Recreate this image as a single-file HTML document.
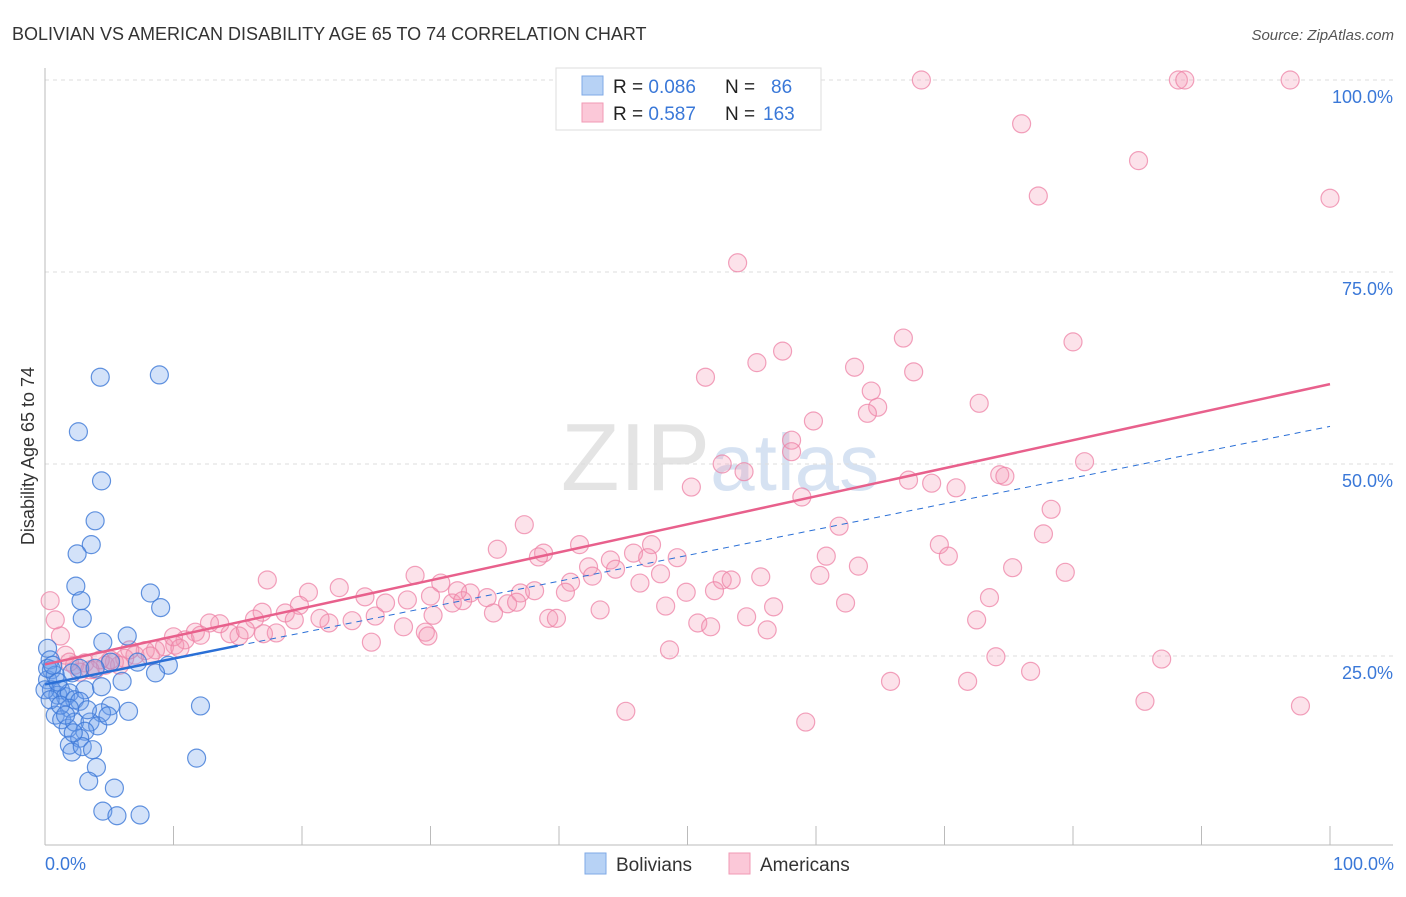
<!DOCTYPE html>
<html><head><meta charset="utf-8"><style>
body{margin:0;background:#fff;font-family:"Liberation Sans",sans-serif}
svg text{font-family:"Liberation Sans",sans-serif}
</style></head><body>
<svg id="chart" width="1406" height="892" viewBox="0 0 1406 892">
<text x="12" y="40" font-size="18" fill="#333">BOLIVIAN VS AMERICAN DISABILITY AGE 65 TO 74 CORRELATION CHART</text>
<text x="1394" y="40" font-size="15" fill="#555" font-style="italic" text-anchor="end">Source: ZipAtlas.com</text>
<text x="720" y="490" font-size="96" fill="#e4e4e4" text-anchor="middle" font-family="Liberation Serif">ZIP<tspan fill="#d6e2f2" font-family="Liberation Sans" font-size="80">atlas</tspan></text>
<g id="grid"></g><g id="axes"></g><g id="pts"></g><g id="trend"></g>
<text transform="translate(34,456) rotate(-90)" font-size="18" fill="#333" text-anchor="middle">Disability Age 65 to 74</text>
<text x="45" y="870" font-size="18" fill="#3a78d8">0.0%</text>
<text x="1394" y="870" font-size="18" fill="#3a78d8" text-anchor="end">100.0%</text>
<g>
<rect x="556" y="68" width="265" height="62" fill="#fff" stroke="#ddd"/>
<rect x="582" y="76" width="21" height="19" fill="#b7d2f5" stroke="#7fa9e6"/>
<rect x="582" y="103" width="21" height="19" fill="#fbc8d8" stroke="#f09ab5"/>
<text x="613" y="93" font-size="19" fill="#222">R = <tspan fill="#3a78d8">0.086</tspan><tspan x="725">N = </tspan><tspan x="771" fill="#3a78d8">86</tspan></text>
<text x="613" y="120" font-size="19" fill="#222">R = <tspan fill="#3a78d8"> 0.587</tspan><tspan x="725">N = </tspan><tspan x="763" fill="#3a78d8">163</tspan></text>
</g>
<g>
<rect x="585" y="853" width="21" height="21" fill="#b7d2f5" stroke="#7fa9e6"/>
<text x="616" y="871" font-size="19" fill="#333">Bolivians</text>
<rect x="729" y="853" width="21" height="21" fill="#fbc8d8" stroke="#f09ab5"/>
<text x="760" y="871" font-size="19" fill="#333">Americans</text>
</g>
</svg>
<script>
const yTicks=[25,50,75,100];
const yTickLabels=["25.0%","50.0%","75.0%","100.0%"];
const xTicks=[0,10,20,30,40,50,60,70,80,90,100];
const blueX=[4.3,8.9,2.6,4.4,3.9,3.6,2.5,2.4,2.8,2.9,8.2,9.0,4.5,6.4,0.2,0.4,0.5,0.2,0.8,1.2,0.5,1.0,1.6,1.9,2.3,3.1,4.4,5.1,6.0,7.2,9.6,8.6,2.1,2.7,3.9,5.1,6.5,4.4,2.7,1.9,0.8,1.3,1.8,2.3,3.5,4.1,3.1,1.9,2.7,2.1,2.9,3.7,4.0,3.4,5.4,4.5,5.6,7.4,12.1,11.8,0,0.4,1.2,1.6,2.2,3.3,4.9,1.0,0.2,0.6];
const blueY=[61.3,61.6,54.2,47.8,42.6,39.5,38.3,34.1,32.2,29.9,33.2,31.3,26.8,27.6,26.0,24.5,23.2,21.9,22.5,20.6,20.6,19.9,19.7,20.2,19.3,20.6,21.0,24.2,21.7,24.2,23.8,22.8,22.8,23.4,23.4,18.5,17.8,17.6,19.1,18.2,17.3,16.7,15.6,16.4,16.4,15.9,15.2,13.4,14.3,12.5,13.2,12.8,10.5,8.7,7.8,4.8,4.2,4.3,18.5,11.7,20.6,19.3,18.6,17.3,15.0,18.0,17.2,21.6,23.4,23.8];
const pinkX=[68.2,88.2,88.7,96.9,76.0,85.1,77.3,100,53.9,66.8,80.0,57.4,55.4,51.4,63.0,67.6,64.3,64.8,72.7,59.8,64.0,58.1,58.1,52.7,54.4,80.9,50.3,67.2,69.0,70.9,74.3,74.7,58.9,78.3,61.8,77.7,37.3,35.2,38.8,41.6,44.0,45.8,47.2,69.6,70.3,60.8,63.3,49.2,38.4,40.9,42.3,44.4,46.9,47.9,52.7,53.4,55.7,52.1,60.3,75.3,79.4,28.8,30.8,22.9,24.9,20.5,19.8,23.9,25.7,22.1,28.2,26.5,30.0,31.7,33.1,34.4,36.0,37.0,38.1,40.5,42.6,46.3,32.1,17.3,16.9,16.3,18.7,19.4,21.4,27.9,29.6,30.2,32.5,34.9,36.7,39.2,39.8,43.2,48.3,49.9,56.7,62.3,73.5,72.5,50.8,51.8,54.6,56.2,48.6,25.4,29.8,18.0,15.1,14.4,13.6,12.8,11.7,10.9,10.1,9.3,8.6,7.8,7.0,6.2,5.4,4.7,3.9,3.1,2.3,1.6,1.2,0.8,0.4,15.6,17.0,12.1,10.0,10.5,8.2,6.6,5.8,5.1,4.3,3.5,2.7,1.9,45.2,65.8,71.8,74.0,76.7,86.9,85.6,97.7,59.2];
const pinkY=[100,100,100,100,94.3,89.5,84.9,84.6,76.2,66.4,65.9,64.7,63.2,61.3,62.6,62.0,59.5,57.4,57.9,55.6,56.6,53.1,51.6,50.0,49.0,50.3,47.0,47.9,47.5,46.9,48.6,48.4,45.7,44.1,41.9,40.9,42.1,38.9,38.4,39.5,37.5,38.4,39.5,39.5,38.0,38.0,36.7,37.8,37.9,34.6,36.6,36.3,37.8,35.7,34.9,34.9,35.3,33.5,35.5,36.5,35.9,35.5,34.5,33.9,32.7,33.3,31.6,29.6,30.2,29.3,32.3,31.9,32.8,31.9,33.2,32.6,31.8,33.2,33.5,33.3,35.4,34.5,33.5,34.9,30.7,29.8,30.6,29.7,29.9,28.8,28.1,30.3,32.2,30.6,32.0,29.9,29.9,31.0,31.5,33.3,31.4,31.9,32.6,29.7,29.3,28.8,30.1,28.4,25.8,26.8,27.6,28.0,27.6,27.9,29.2,29.3,28.1,27.1,26.4,26.2,25.8,25.7,25.1,24.7,24.2,23.8,23.2,24.1,23.8,25.1,27.6,29.7,32.2,28.4,27.9,27.7,27.5,26.0,25.0,25.8,23.8,24.5,24.5,23.2,22.9,24.2,17.8,21.7,21.7,24.9,23.0,24.6,19.1,18.5,16.4];
const blueTrend=[21.3,54.9];
const pinkTrend=[23.9,60.4];
const NS="http://www.w3.org/2000/svg";
const X0=45,X1=1330,Y0=848,Y100=80;
function sx(v){return X0+v*(X1-X0)/100;}
function sy(v){return Y0-v*(Y0-Y100)/100;}
function mk(parent,tag,attrs){const e=document.createElementNS(NS,tag);for(const k in attrs)e.setAttribute(k,attrs[k]);parent.appendChild(e);return e;}
const grid=document.getElementById('grid'),axes=document.getElementById('axes'),pts=document.getElementById('pts'),tr=document.getElementById('trend');
yTicks.forEach((t,i)=>{
  const l=mk(grid,'line',{x1:X0,x2:1393,y1:sy(t),y2:sy(t),stroke:'#ddd','stroke-dasharray':'4,4'});
  
  
  const tx=mk(grid,'text',{x:1393,y:sy(t)+23,'font-size':18,fill:'#3a78d8','text-anchor':'end'});
  tx.textContent=yTickLabels[i];
  
  
});
const ax=mk(axes,'line',{x1:X0,x2:1393,y1:845,y2:845,stroke:'#bbb'});


const ay=mk(axes,'line',{x1:X0,x2:X0,y1:68,y2:845,stroke:'#bbb'});


xTicks.forEach(t=>{
  const l=mk(axes,'line',{x1:sx(t),x2:sx(t),y1:826,y2:845,stroke:'#bbb'});
  
  
});
function dots(xs,ys,fill,stroke,name){
  xs.forEach((v,i)=>{
    const c=mk(pts,'circle',{cx:sx(v),cy:sy(ys[i]),r:9,fill:fill,stroke:stroke,'stroke-width':1.2});
    
    
  });
}
dots(pinkX,pinkY,'rgba(245,150,180,0.28)','rgba(238,130,165,0.75)','american-point');
dots(blueX,blueY,'rgba(110,160,235,0.3)','rgba(60,120,215,0.8)','bolivian-point');
function ty(c,x){return c[0]+(c[1]-c[0])*x/100;}
const bd=mk(tr,'line',{x1:sx(15),y1:sy(ty(blueTrend,15)),x2:sx(100),y2:sy(ty(blueTrend,100)),stroke:'#2a6fd6','stroke-width':1,'stroke-dasharray':'6,5'});


const bs=mk(tr,'line',{x1:sx(0),y1:sy(ty(blueTrend,0)),x2:sx(15),y2:sy(ty(blueTrend,15)),stroke:'#2a6fd6','stroke-width':2.5});


const ps=mk(tr,'line',{x1:sx(0),y1:sy(ty(pinkTrend,0)),x2:sx(100),y2:sy(ty(pinkTrend,100)),stroke:'#e8608c','stroke-width':2.5});


</script>
</body></html>
